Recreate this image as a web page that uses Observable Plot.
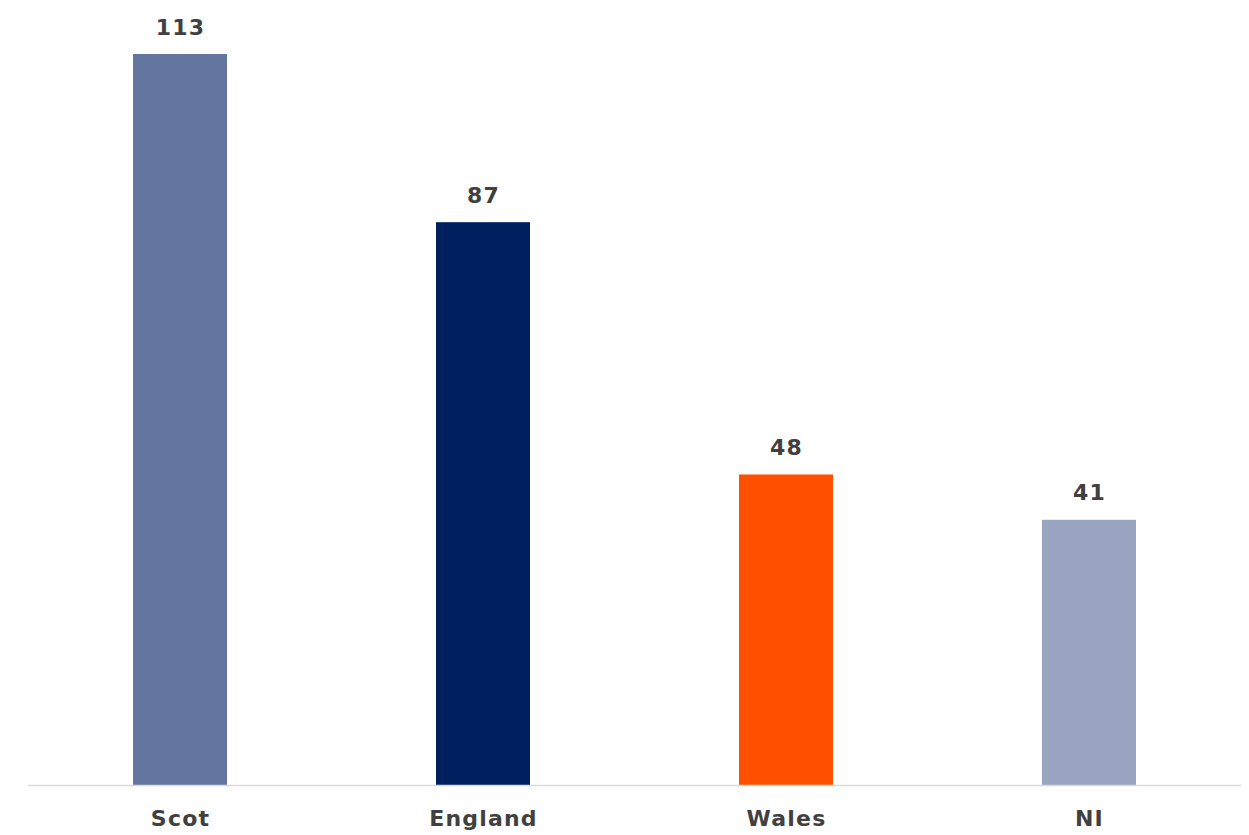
<!DOCTYPE html>
<html>
<head>
<meta charset="utf-8">
<script src="https://cdn.jsdelivr.net/npm/d3@7"></script>
<script src="https://cdn.jsdelivr.net/npm/@observablehq/plot@0.6"></script>
<style>
  html, body { margin: 0; padding: 0; background: #fff; }
  #chart { width: 1249px; height: 835px; }
</style>
</head>
<body>
<div id="chart"></div>
<script>
const regions = ["Scot", "England", "Wales", "NI"];
const values = [113, 87, 48, 41];
const colors = ["#64759f", "#001f5f", "#ff5000", "#99a5c0"];

const data = regions.map((r, i) => ({region: r, value: values[i]}));

const chart = Plot.plot({
  width: 1249,
  height: 835,
  marginLeft: 28,
  marginRight: 8,
  marginTop: 54,
  marginBottom: 50,
  style: {fontFamily: "DejaVu Sans", background: "#fff"},
  x: {domain: regions, paddingInner: 0.69, paddingOuter: 0.345, label: null},
  y: {domain: [0, 113], axis: null},
  color: {domain: regions, range: colors},
  marks: [
    Plot.barY(data, {x: "region", y: "value", fill: "region"}),
    Plot.ruleY([0], {stroke: "#d9d9d9", strokeWidth: 1.5}),
    Plot.text(data, {
      x: "region", y: "value", text: d => String(d.value),
      dy: -27, fill: "#404040", fontWeight: "bold", fontSize: 22
    }),
    Plot.axisX({
      tickSize: 0, tickPadding: 25, fontSize: 22, fontWeight: "bold",
      fill: "#404040", label: null
    })
  ]
});
chart.querySelectorAll("g[aria-label='x-axis tick label'] text, g[aria-label='text'] text").forEach(t => t.setAttribute("letter-spacing", "1.2"));
document.getElementById("chart").appendChild(chart);
</script>
</body>
</html>
